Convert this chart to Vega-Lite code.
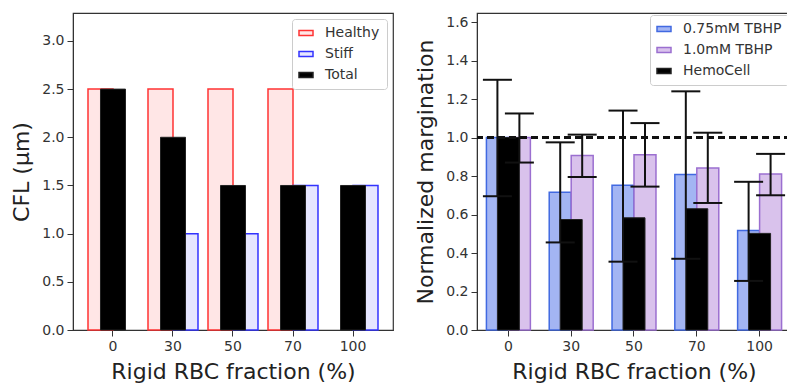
{
  "$schema": "https://vega.github.io/schema/vega-lite/v6.json",
  "padding": {"left": 10, "top": 12, "right": 0, "bottom": 0},
  "background": "white",
  "config": {
    "font": "DejaVu Sans",
    "view": {"stroke": "#333333", "strokeWidth": 1.2},
    "axis": {
      "labelFont": "DejaVu Sans", "labelFontSize": 14, "labelColor": "#333333",
      "titleFont": "DejaVu Sans", "titleFontSize": 22, "titleFontWeight": "normal", "titleColor": "#222222",
      "tickColor": "#333333", "domainColor": "#333333", "tickSize": 6, "labelPadding": 3, "grid": false, "titlePadding": 8,
      "labelOverlap": false
    },
    "legend": {
      "orient": "top-right", "offset": 6, "title": null,
      "fillColor": "white", "strokeColor": "#cccccc", "padding": 7, "cornerRadius": 3,
      "labelFont": "DejaVu Sans", "labelFontSize": 14, "labelColor": "#333333", "labelOffset": 12,
      "symbolType": "M-1.4,-0.5H1.4V0.5H-1.4Z", "symbolSize": 100, "symbolStrokeWidth": 1.5, "rowPadding": 7
    }
  },
  "datasets": {
    "cfl": [
      {"frac": 0, "type": "Healthy", "cfl": 2.5},
      {"frac": 30, "type": "Healthy", "cfl": 2.5},
      {"frac": 50, "type": "Healthy", "cfl": 2.5},
      {"frac": 70, "type": "Healthy", "cfl": 2.5},
      {"frac": 30, "type": "Stiff", "cfl": 1.0},
      {"frac": 50, "type": "Stiff", "cfl": 1.0},
      {"frac": 70, "type": "Stiff", "cfl": 1.5},
      {"frac": 100, "type": "Stiff", "cfl": 1.5},
      {"frac": 0, "type": "Total", "cfl": 2.5},
      {"frac": 30, "type": "Total", "cfl": 2.0},
      {"frac": 50, "type": "Total", "cfl": 1.5},
      {"frac": 70, "type": "Total", "cfl": 1.5},
      {"frac": 100, "type": "Total", "cfl": 1.5}
    ],
    "marg": [
      {"frac": 0, "series": "0.75mM TBHP", "value": 1.0, "lo": 0.695, "hi": 1.30},
      {"frac": 30, "series": "0.75mM TBHP", "value": 0.716, "lo": 0.455, "hi": 0.975},
      {"frac": 50, "series": "0.75mM TBHP", "value": 0.752, "lo": 0.355, "hi": 1.14},
      {"frac": 70, "series": "0.75mM TBHP", "value": 0.808, "lo": 0.37, "hi": 1.24},
      {"frac": 100, "series": "0.75mM TBHP", "value": 0.517, "lo": 0.255, "hi": 0.77},
      {"frac": 0, "series": "1.0mM TBHP", "value": 1.0, "lo": 0.87, "hi": 1.125},
      {"frac": 30, "series": "1.0mM TBHP", "value": 0.906, "lo": 0.795, "hi": 1.015},
      {"frac": 50, "series": "1.0mM TBHP", "value": 0.91, "lo": 0.745, "hi": 1.075},
      {"frac": 70, "series": "1.0mM TBHP", "value": 0.842, "lo": 0.66, "hi": 1.025},
      {"frac": 100, "series": "1.0mM TBHP", "value": 0.811, "lo": 0.70, "hi": 0.915},
      {"frac": 0, "series": "HemoCell", "value": 1.0},
      {"frac": 30, "series": "HemoCell", "value": 0.574},
      {"frac": 50, "series": "HemoCell", "value": 0.583},
      {"frac": 70, "series": "HemoCell", "value": 0.63},
      {"frac": 100, "series": "HemoCell", "value": 0.502}
    ]
  },
  "spacing": 20,
  "resolve": {
    "scale": {"x": "independent", "y": "independent", "xOffset": "independent", "fill": "independent", "stroke": "independent"},
    "legend": {"fill": "independent", "stroke": "independent"}
  },
  "hconcat": [
    {
      "width": 320, "height": 317,
      "data": {"name": "cfl"},
      "layer": [
        {
          "transform": [{"filter": "datum.type !== 'Total'"}],
          "mark": {"type": "bar", "strokeWidth": 1.5},
          "encoding": {
            "x": {"field": "frac", "type": "ordinal", "scale": {"paddingInner": 0.1667, "paddingOuter": 0.25},
                  "axis": {"title": "Rigid RBC fraction (%)", "labelAngle": 0}},
            "xOffset": {"field": "type", "type": "nominal", "scale": {"domain": ["Healthy", "Stiff"], "paddingInner": 0, "paddingOuter": 0}},
            "y": {"field": "cfl", "type": "quantitative", "scale": {"domain": [0, 3.29], "nice": false},
                  "axis": {"title": "CFL (μm)", "values": [0, 0.5, 1.0, 1.5, 2.0, 2.5, 3.0], "format": ".1f"}},
            "fill": {"field": "type", "type": "nominal", "scale": {"domain": ["Healthy", "Stiff", "Total"], "range": ["#ffe6e6", "#e6e6ff", "#000000"]}},
            "stroke": {"field": "type", "type": "nominal", "scale": {"domain": ["Healthy", "Stiff", "Total"], "range": ["#ff3333", "#3333ff", "#222222"]}}
          }
        },
        {
          "transform": [{"filter": "datum.type === 'Total'"}],
          "mark": {"type": "bar", "width": {"band": 0.5}, "strokeWidth": 1},
          "encoding": {
            "x": {"field": "frac", "type": "ordinal"},
            "y": {"field": "cfl", "type": "quantitative"},
            "fill": {"field": "type", "type": "nominal"},
            "stroke": {"field": "type", "type": "nominal"}
          }
        }
      ]
    },
    {
      "width": 314, "height": 317,
      "data": {"name": "marg"},
      "layer": [
        {
          "transform": [{"filter": "datum.series !== 'HemoCell'"}],
          "mark": {"type": "bar", "strokeWidth": 1.5},
          "encoding": {
            "x": {"field": "frac", "type": "ordinal", "scale": {"paddingInner": 0.3, "paddingOuter": 0.15},
                  "axis": {"title": "Rigid RBC fraction (%)", "labelAngle": 0}},
            "xOffset": {"field": "series", "type": "nominal", "scale": {"domain": ["0.75mM TBHP", "1.0mM TBHP"], "paddingInner": 0, "paddingOuter": 0}},
            "y": {"field": "value", "type": "quantitative", "scale": {"domain": [0, 1.647], "nice": false},
                  "axis": {"title": "Normalized margination", "values": [0, 0.2, 0.4, 0.6, 0.8, 1.0, 1.2, 1.4, 1.6], "format": ".1f"}},
            "fill": {"field": "series", "type": "nominal", "scale": {"domain": ["0.75mM TBHP", "1.0mM TBHP", "HemoCell"], "range": ["#a3b5f3", "#d9c2ec", "#000000"]},
                     "legend": {"offset": 2}},
            "stroke": {"field": "series", "type": "nominal", "scale": {"domain": ["0.75mM TBHP", "1.0mM TBHP", "HemoCell"], "range": ["#4169e1", "#9b6fd0", "#222222"]}}
          }
        },
        {
          "transform": [{"filter": "datum.series === 'HemoCell'"}],
          "mark": {"type": "bar", "width": {"band": 0.5}, "strokeWidth": 1},
          "encoding": {
            "x": {"field": "frac", "type": "ordinal"},
            "y": {"field": "value", "type": "quantitative",
                  "axis": {"title": "Normalized margination", "values": [0, 0.2, 0.4, 0.6, 0.8, 1.0, 1.2, 1.4, 1.6], "format": ".1f"}},
            "fill": {"field": "series", "type": "nominal"},
            "stroke": {"field": "series", "type": "nominal"}
          }
        },
        {
          "transform": [{"filter": "datum.series !== 'HemoCell'"}],
          "mark": {"type": "rule", "color": "#111111", "strokeWidth": 2},
          "encoding": {
            "x": {"field": "frac", "type": "ordinal"},
            "xOffset": {"field": "series", "type": "nominal"},
            "y": {"field": "lo", "type": "quantitative",
                  "axis": {"title": "Normalized margination", "values": [0, 0.2, 0.4, 0.6, 0.8, 1.0, 1.2, 1.4, 1.6], "format": ".1f"}},
            "y2": {"field": "hi"}
          }
        },
        {
          "transform": [{"filter": "datum.series !== 'HemoCell'"}],
          "mark": {"type": "tick", "color": "#111111", "thickness": 2, "size": 29, "opacity": 1},
          "encoding": {
            "x": {"field": "frac", "type": "ordinal"},
            "xOffset": {"field": "series", "type": "nominal"},
            "y": {"field": "lo", "type": "quantitative",
                  "axis": {"title": "Normalized margination", "values": [0, 0.2, 0.4, 0.6, 0.8, 1.0, 1.2, 1.4, 1.6], "format": ".1f"}}
          }
        },
        {
          "transform": [{"filter": "datum.series !== 'HemoCell'"}],
          "mark": {"type": "tick", "color": "#111111", "thickness": 2, "size": 29, "opacity": 1},
          "encoding": {
            "x": {"field": "frac", "type": "ordinal"},
            "xOffset": {"field": "series", "type": "nominal"},
            "y": {"field": "hi", "type": "quantitative",
                  "axis": {"title": "Normalized margination", "values": [0, 0.2, 0.4, 0.6, 0.8, 1.0, 1.2, 1.4, 1.6], "format": ".1f"}}
          }
        },
        {
          "mark": {"type": "rule", "color": "#111111", "strokeWidth": 2, "strokeDash": [7, 4]},
          "encoding": {"y": {"datum": 1, "type": "quantitative",
                  "axis": {"title": "Normalized margination", "values": [0, 0.2, 0.4, 0.6, 0.8, 1.0, 1.2, 1.4, 1.6], "format": ".1f"}}}
        }
      ]
    }
  ]
}
